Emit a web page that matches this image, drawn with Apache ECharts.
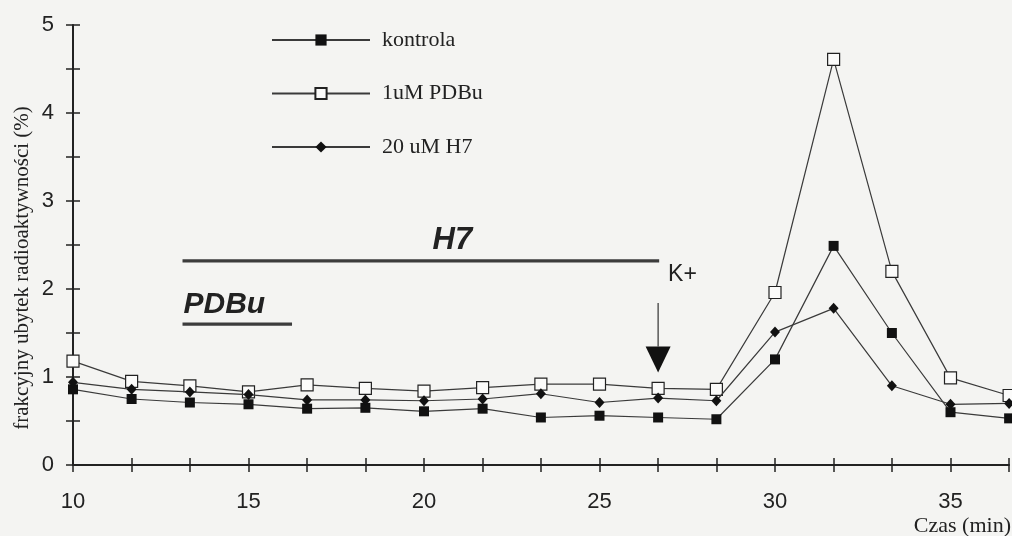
<!DOCTYPE html>
<html>
<head>
<meta charset="utf-8">
<script src="https://cdn.jsdelivr.net/npm/echarts@6/dist/echarts.min.js"></script>
<style>
  html, body { margin: 0; padding: 0; background: #f4f4f2; }
  #chart { width: 1012px; height: 536px; }
</style>
</head>
<body>
<div id="chart"></div>
<script>
// Time points (min)
const times = [10, 11.67, 13.33, 15, 16.67, 18.33, 20, 21.67, 23.33, 25, 26.67, 28.33, 30, 31.67, 33.33, 35, 36.67];
// Series values (%)
const kontrola = [0.86, 0.75, 0.71, 0.69, 0.64, 0.65, 0.61, 0.64, 0.54, 0.56, 0.54, 0.52, 1.20, 2.49, 1.50, 0.60, 0.53];
const pdbu     = [1.18, 0.95, 0.90, 0.83, 0.91, 0.87, 0.84, 0.88, 0.92, 0.92, 0.87, 0.86, 1.96, 4.61, 2.20, 0.99, 0.79];
const h7       = [0.94, 0.86, 0.83, 0.80, 0.74, 0.74, 0.73, 0.75, 0.81, 0.71, 0.76, 0.73, 1.51, 1.78, 0.90, 0.69, 0.70];
const seriesNames = ['kontrola', '1uM PDBu', '20 uM H7'];
const xTickLabels = [10, 15, 20, 25, 30, 35];
const yTickLabels = [0, 1, 2, 3, 4, 5];
// Annotation anchors (data coordinates)
const h7Bar = { from: 13.12, to: 26.7, y: 2.32, label: 'H7' };
const pdbuBar = { from: 13.12, to: 16.24, y: 1.60, label: 'PDBu' };
const kArrow = { x: 26.67, top: 1.84, tip: 1.05, label: 'K+' };

const toPairs = vals => vals.map((v, i) => [times[i], v]);
const sans = 'Liberation Sans, Arial, sans-serif';
const serif = 'Liberation Serif, Times New Roman, serif';
const ink = '#222';
const lineColor = '#3a3a3a';

const chart = echarts.init(document.getElementById('chart'), null, { renderer: 'canvas' });

const xFmt = v => {
  const r = Math.round(v);
  return (Math.abs(v - r) < 0.02 && xTickLabels.indexOf(r) >= 0) ? String(r) : '';
};
const yFmt = v => {
  const r = Math.round(v);
  return (Math.abs(v - r) < 1e-6 && yTickLabels.indexOf(r) >= 0) ? String(r) : '';
};

const xBase = { type: 'value', min: 10, max: 110 / 3, interval: 5 / 3, position: 'bottom', splitLine: { show: false } };
const yBase = { type: 'value', min: 0, max: 5, interval: 0.5, position: 'left', splitLine: { show: false } };

const option = {
  backgroundColor: '#f4f4f2',
  animation: false,
  grid: { left: 73, right: 0, top: 25, bottom: 71, containLabel: false },
  legend: {
    orient: 'vertical',
    left: 271,
    top: 29,
    padding: 0,
    itemWidth: 98,
    itemHeight: 14,
    itemGap: 31.5,
    data: seriesNames,
    textStyle: { fontFamily: serif, fontSize: 22, color: ink, lineHeight: 14, padding: [0, 0, 0, 7] },
    selectedMode: false
  },
  xAxis: [
    Object.assign({}, xBase, {
      axisLine: { show: true, onZero: false, lineStyle: { color: ink, width: 2 } },
      axisTick: { show: false },
      axisLabel: { formatter: xFmt, margin: 26, fontFamily: sans, fontSize: 22, color: ink }
    }),
    Object.assign({}, xBase, {
      offset: -7,
      axisLine: { show: false, onZero: false },
      axisTick: { show: true, length: 14, lineStyle: { color: ink, width: 1.5 } },
      axisLabel: { show: false }
    })
  ],
  yAxis: [
    Object.assign({}, yBase, {
      axisLine: { show: true, onZero: false, lineStyle: { color: ink, width: 2 } },
      axisTick: { show: false },
      axisLabel: { formatter: yFmt, margin: 19, fontFamily: sans, fontSize: 22, color: ink }
    }),
    Object.assign({}, yBase, {
      offset: -7,
      axisLine: { show: false, onZero: false },
      axisTick: { show: true, length: 14, lineStyle: { color: ink, width: 1.5 } },
      axisLabel: { show: false }
    })
  ],
  series: [
    {
      name: seriesNames[0], type: 'line', xAxisIndex: 0, yAxisIndex: 0,
      data: toPairs(kontrola), clip: false,
      symbol: 'rect', symbolSize: 10,
      lineStyle: { color: lineColor, width: 1.2 },
      itemStyle: { color: '#111', borderColor: '#111', borderWidth: 0 },
      z: 3
    },
    {
      name: seriesNames[1], type: 'line', xAxisIndex: 0, yAxisIndex: 0,
      data: toPairs(pdbu), clip: false,
      symbol: 'rect', symbolSize: 12,
      lineStyle: { color: lineColor, width: 1.2 },
      itemStyle: { color: '#fbfbfa', borderColor: '#222', borderWidth: 1.2 },
      z: 4
    },
    {
      name: seriesNames[2], type: 'line', xAxisIndex: 0, yAxisIndex: 0,
      data: toPairs(h7), clip: false,
      symbol: 'diamond', symbolSize: [10, 11],
      lineStyle: { color: lineColor, width: 1.2 },
      itemStyle: { color: '#111' },
      z: 5
    },
    {
      name: 'tick-helper', type: 'line', xAxisIndex: 1, yAxisIndex: 1,
      data: [], silent: true, showSymbol: false
    }
  ]
};

chart.setOption(option);

const px = (x, y) => chart.convertToPixel({ xAxisIndex: 0, yAxisIndex: 0 }, [x, y]);
const h7a = px(h7Bar.from, h7Bar.y), h7b = px(h7Bar.to, h7Bar.y);
const pda = px(pdbuBar.from, pdbuBar.y), pdb = px(pdbuBar.to, pdbuBar.y);
const kTop = px(kArrow.x, kArrow.top), kTip = px(kArrow.x, kArrow.tip);
const triH = 26, triW = 25;

chart.setOption({
  graphic: [
    { type: 'line', shape: { x1: h7a[0], y1: h7a[1], x2: h7b[0], y2: h7b[1] }, style: { stroke: '#3c3c3c', lineWidth: 3.2 }, z: 10 },
    { type: 'text', x: h7a[0] + 250, y: h7a[1] - 20, style: { text: h7Bar.label, font: 'italic bold 31px ' + sans, fill: ink, align: 'left', verticalAlign: 'middle' }, z: 10 },
    { type: 'line', shape: { x1: pda[0], y1: pda[1], x2: pdb[0], y2: pdb[1] }, style: { stroke: '#3c3c3c', lineWidth: 3.2 }, z: 10 },
    { type: 'text', x: pda[0] + 1, y: pda[1] - 19, style: { text: pdbuBar.label, font: 'italic bold 30px ' + sans, fill: ink, align: 'left', verticalAlign: 'middle' }, z: 10 },
    { type: 'text', x: kTop[0] + 10, y: h7a[1] + 14, style: { text: kArrow.label, font: '23px ' + sans, fill: ink, align: 'left', verticalAlign: 'middle' }, z: 10 },
    { type: 'line', shape: { x1: kTop[0], y1: kTop[1], x2: kTop[0], y2: kTip[1] - triH }, style: { stroke: '#333', lineWidth: 1.2 }, z: 10 },
    { type: 'polygon', shape: { points: [[kTip[0] - triW / 2, kTip[1] - triH], [kTip[0] + triW / 2, kTip[1] - triH], [kTip[0], kTip[1]]] }, style: { fill: '#111' }, z: 10 },
    { type: 'text', x: 22, y: 268, rotation: Math.PI / 2, style: { text: 'frakcyjny ubytek radioaktywności (%)', font: '21px ' + serif, fill: ink, align: 'center', verticalAlign: 'middle' }, z: 10 },
    { type: 'text', x: 1011, y: 526, style: { text: 'Czas (min)', font: '22px ' + serif, fill: ink, align: 'right', verticalAlign: 'middle' }, z: 10 }
  ]
});
</script>
</body>
</html>
